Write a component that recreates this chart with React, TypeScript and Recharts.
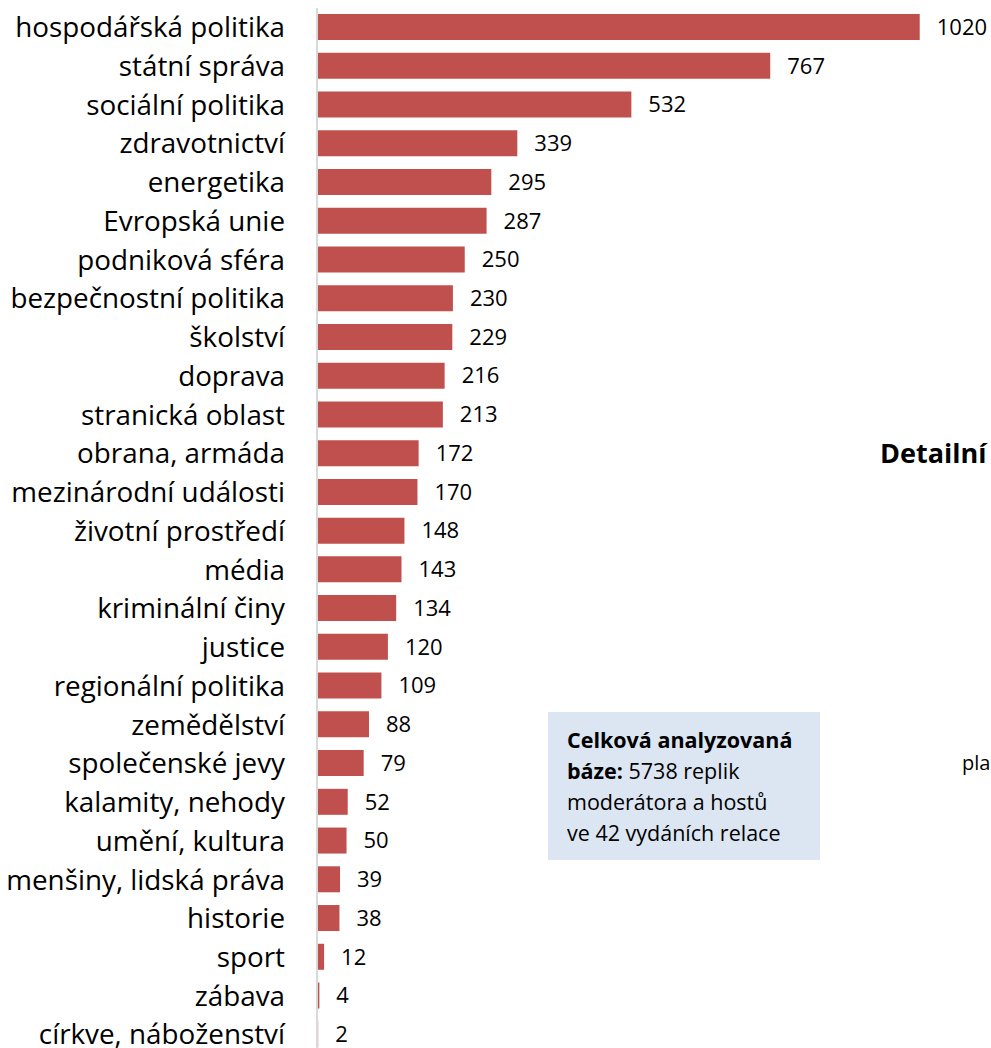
import { BarChart, Bar, XAxis, YAxis, LabelList } from "recharts";

const topics = [
  "hospodářská politika",
  "státní správa",
  "sociální politika",
  "zdravotnictví",
  "energetika",
  "Evropská unie",
  "podniková sféra",
  "bezpečnostní politika",
  "školství",
  "doprava",
  "stranická oblast",
  "obrana, armáda",
  "mezinárodní události",
  "životní prostředí",
  "média",
  "kriminální činy",
  "justice",
  "regionální politika",
  "zemědělství",
  "společenské jevy",
  "kalamity, nehody",
  "umění, kultura",
  "menšiny, lidská práva",
  "historie",
  "sport",
  "zábava",
  "církve, náboženství",
];

const counts = [
  1020, 767, 532, 339, 295, 287, 250, 230, 229, 216, 213, 172, 170, 148, 143,
  134, 120, 109, 88, 79, 52, 50, 39, 38, 12, 4, 2,
];

const data = topics.map((topic, i) => ({ topic, count: counts[i] }));

const FONT = "'Open Sans', sans-serif";

export default function App() {
  return (
    <div
      style={{
        position: "absolute",
        top: 0,
        left: 0,
        width: 991,
        height: 1048,
        overflow: "hidden",
        background: "#fff",
        fontFamily: FONT,
      }}
    >
      <BarChart
        layout="vertical"
        width={991}
        height={1062}
        data={data}
        margin={{ top: 8, right: 24, bottom: 8, left: 0 }}
      >
        <XAxis type="number" domain={[0, 1100]} hide />
        <YAxis
          type="category"
          dataKey="topic"
          width={317}
          tickLine={false}
          tickSize={0}
          tickMargin={32}
          axisLine={{ stroke: "#d9d9d9", strokeWidth: 2 }}
          tick={{ fill: "#000", fontSize: 27.8, fontFamily: FONT }}
          interval={0}
        />
        <Bar dataKey="count" fill="#c0504d" barSize={26} isAnimationActive={false}>
          <LabelList
            dataKey="count"
            position="right"
            offset={17}
            style={{ fill: "#000", fontSize: 22, fontFamily: FONT }}
          />
        </Bar>
      </BarChart>

      <div
        style={{
          position: "absolute",
          left: 548,
          top: 712,
          width: 272,
          height: 148,
          background: "#dce6f2",
          boxSizing: "border-box",
          padding: "12px 0 0 19px",
          fontSize: 21.5,
          lineHeight: "31px",
          color: "#000",
          whiteSpace: "nowrap",
        }}
      >
        <b>Celková analyzovaná</b>
        <br />
        <b>báze:</b> 5738 replik
        <br />
        moderátora a hostů
        <br />
        ve 42 vydáních relace
      </div>

      <div
        style={{
          position: "absolute",
          left: 880,
          top: 434,
          fontSize: 27,
          fontWeight: "bold",
          whiteSpace: "nowrap",
          color: "#000",
        }}
      >
        Detailní
      </div>
      <div
        style={{
          position: "absolute",
          left: 962,
          top: 749,
          fontSize: 20,
          whiteSpace: "nowrap",
          color: "#000",
        }}
      >
        pla
      </div>
    </div>
  );
}
